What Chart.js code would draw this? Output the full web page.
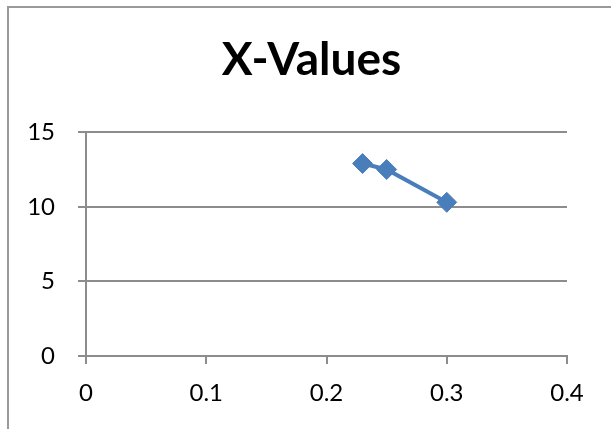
<!DOCTYPE html>
<html>
<head>
<meta charset="utf-8">
<script src="https://cdn.jsdelivr.net/npm/chart.js@4"></script>
<style>
  html, body { margin: 0; padding: 0; background: #fff; }
  body { width: 611px; height: 429px; position: relative; overflow: hidden; }
  #frame {
    position: absolute; left: 7px; top: 6px; width: 640px; height: 460px;
    border: 2px solid #9a9a9a; box-sizing: border-box;
  }
  #wrap { position: absolute; left: 0; top: 0; width: 611px; height: 429px; }
</style>
</head>
<body>
<div id="frame"></div>
<div id="wrap"><canvas id="lineChart" width="611" height="429"></canvas></div>
<script>
const chartTitle = "X-Values";
const xValues = [0.23, 0.25, 0.30];
const yValues = [12.9, 12.5, 10.3];
const xTicks = [0, 0.1, 0.2, 0.3, 0.4];
const yTicks = [0, 5, 10, 15];

const points = xValues.map((x, i) => ({ x: x, y: yValues[i] }));
const blue = "#4a7ebb";
const gridGray = "#8c8c8c";
const fontFamily = "Lato, 'Open Sans', sans-serif";

const ctx = document.getElementById("lineChart").getContext("2d");
new Chart(ctx, {
  type: "scatter",
  data: {
    datasets: [{
      label: chartTitle,
      data: points,
      showLine: true,
      borderColor: blue,
      backgroundColor: blue,
      borderWidth: 4,
      pointStyle: "rectRot",
      pointRadius: 10,
      pointBorderWidth: 1,
      pointBackgroundColor: blue,
      pointBorderColor: blue,
    }],
  },
  options: {
    responsive: false,
    animation: false,
    layout: { padding: { left: 12, right: 0, top: 0, bottom: 0 } },
    plugins: {
      legend: { display: false },
      tooltip: { enabled: false },
      title: {
        display: true,
        text: chartTitle,
        color: "#000",
        font: { family: fontFamily, size: 46, weight: "bold", lineHeight: 1.2 },
        padding: { top: 33, bottom: 44 },
      },
    },
    scales: {
      x: {
        type: "linear",
        min: xTicks[0],
        max: xTicks[xTicks.length - 1],
        afterBuildTicks: scale => { scale.ticks = xTicks.map(v => ({ value: v })); },
        afterFit: scale => { scale.height = 73; },
        ticks: {
          color: "#000",
          font: { family: fontFamily, size: 24 },
          padding: 15,
          callback: v => String(v),
        },
        grid: { drawOnChartArea: false, drawTicks: true, tickLength: 8, color: gridGray, lineWidth: 2 },
        border: { display: true, color: gridGray, width: 2 },
      },
      y: {
        min: yTicks[0],
        max: yTicks[yTicks.length - 1],
        afterBuildTicks: scale => { scale.ticks = yTicks.map(v => ({ value: v })); },
        afterFit: scale => { scale.width = 74; },
        ticks: {
          color: "#000",
          font: { family: fontFamily, size: 24 },
          padding: 23,
        },
        grid: { color: gridGray, lineWidth: 2, tickLength: 8 },
        border: { display: true, color: gridGray, width: 2 },
      },
      // empty right-hand axis that only reserves the right margin
      yRight: {
        axis: "y",
        position: "right",
        min: yTicks[0],
        max: yTicks[yTicks.length - 1],
        afterFit: scale => { scale.width = 44; },
        ticks: { display: false },
        grid: { display: false },
        border: { display: false },
      },
    },
  },
});
</script>
</body>
</html>
